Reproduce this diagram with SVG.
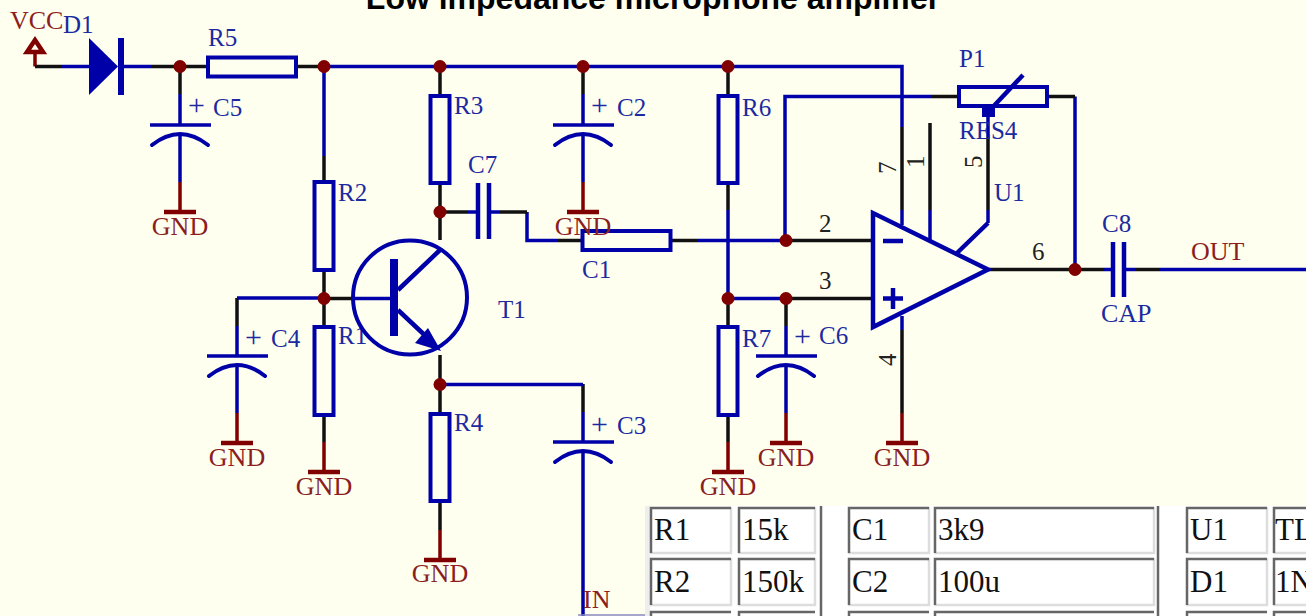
<svg xmlns="http://www.w3.org/2000/svg" width="1306" height="616" viewBox="0 0 1306 616">
<style>
text{font-family:"Liberation Serif","Times New Roman",serif;font-size:25px}
.t{fill:#1c2aa0}.g{fill:#8b1e1e;font-size:26px}.p{fill:#222}.l{font-size:26px}
.plus{font-size:30px}
.title{font-family:"Liberation Sans",Arial,sans-serif;font-weight:bold;font-size:32px;fill:#000}
.cell{font-size:31px;fill:#111}
.k,.b,.d{fill:none;stroke-width:3.500}
.k{stroke:#111}.b{stroke:#0000a8}.d{stroke:#800000}
.w4{stroke-width:4.500}.w5{stroke-width:6}
.body{fill:none;stroke:#0000a8;stroke-width:4}
.solid{fill:#0000a8;stroke:none}
.j{fill:#800000}
.ci{fill:#fff;stroke:none}
.tl{fill:none;stroke:#666;stroke-width:2.500}
.br{fill:none;stroke:#ddd;stroke-width:2.500}
</style>
<defs>
<g id="pcap"><path class="b" d="M-30 0H31"/><path class="body" stroke-linecap="round" d="M-28 20Q0 -2 28 20"/></g>
<path id="gbar" class="d w4" d="M-16 0H16"/>
</defs>
<rect width="1306" height="616" fill="#fffff0"/>
<text class="title" x="653" y="9" text-anchor="middle" id="title">Low impedance microphone amplifier</text>

<g id="connectors">
<path class="d" d="M35 54V66.500"/>
<path class="k" d="M35 66.500H62M152 66.500H207M296 66.500H324"/>
<path class="b" d="M62 66.500H90M121 66.500H152M324 66.500H902V127M785 240.500V96.500H932M1075 96.500V269.500"/>
<path class="k" d="M932 96.500H958M1047 96.500H1075"/>
<path class="k" d="M180 66.500V94M324 156V182M324 270V327M324 415V442M440 66.500V96M440 183V240M440 355V414M440 501V530M583 66.500V94M583 384V412M728 66.500V96M728 183V210M728 298V327M728 415V442M786 298V326M237 298V326M902 127V210M902 330V413M930 123V210M988 137V210"/>
<path class="b" d="M180 94V125M180 134V182M324 66.500V156M237 326V356M237 366V413M583 94V125M583 134V182M583 412V442M583 452V616M728 210V298M786 326V356M786 366V413M902 210V225M930 210V240M902 316V330M988 117V137M988 210V223"/>
<path class="b w4" d="M988 223L957 253"/>
<path class="d" d="M180 182V212M237 413V443M324 442V472M440 530V560M583 182V212M728 442V472M786 413V443M902 413V443"/>
<path class="b" d="M237 298H324M440 384.500H583M468 212H478M488 212H499M527 212V240.500H558M697 240.500H786M728 298.500H786M1103 269.500H1113M1124 269.500H1135M1160 269.500H1306"/>
<path class="k" d="M324 298.500H352M440 212H468M499 212H527M558 240.500H582M670 240.500H697M786 240.500H873M786 298.500H873M988 269.500H1103M1135 269.500H1160"/>
</g>

<g id="VCC"><path class="d w4" d="M35 40L43 52H27Z"/><text class="g" x="10" y="29">VCC</text></g>
<g id="D1"><path class="solid" d="M89 38L118 66.500L89 95Z"/><path class="b w5" d="M121 38V95"/><text class="t" x="63" y="33">D1</text></g>
<g id="R5"><rect class="body" x="208" y="57.500" width="88" height="19"/><text class="t" x="208" y="46">R5</text></g>
<g id="C5"><use href="#pcap" x="180" y="125"/><text class="t plus" x="188" y="115">+</text><text class="t" x="213" y="116">C5</text></g>
<g id="R2"><rect class="body" x="314.500" y="182" width="19" height="88"/><text class="t" x="338" y="201">R2</text></g>
<g id="R1"><rect class="body" x="314.500" y="327" width="19" height="88"/><text class="t" x="338" y="344">R1</text></g>
<g id="C4"><use href="#pcap" x="237" y="356"/><text class="t plus" x="245" y="347">+</text><text class="t" x="271" y="347">C4</text></g>
<g id="R3"><rect class="body" x="430.500" y="96" width="19" height="87"/><text class="t" x="454" y="114">R3</text></g>
<g id="R4"><rect class="body" x="430.500" y="414" width="19" height="87"/><text class="t" x="454" y="431">R4</text></g>
<g id="T1">
<circle class="body" cx="410" cy="297.500" r="57"/>
<path class="b" d="M352 298.500H392"/>
<rect class="solid" x="390" y="259" width="8" height="77"/>
<path class="b w4" d="M398 290L440 250M398 310L432 342"/>
<path class="solid" d="M428 328L441 351L415 343Z"/>
<text class="t" x="498" y="318">T1</text>
</g>
<g id="C7"><path class="b w4" d="M478 183V239M489 183V239"/><text class="t" x="468" y="173">C7</text></g>
<g id="C2"><use href="#pcap" x="583" y="125"/><text class="t plus" x="591" y="115">+</text><text class="t" x="617" y="116">C2</text></g>
<g id="C1"><rect class="body" x="582.500" y="231" width="88" height="19"/><text class="t" x="582" y="278">C1</text></g>
<g id="C3"><use href="#pcap" x="583" y="442"/><text class="t plus" x="591" y="434">+</text><text class="t" x="617" y="434">C3</text></g>
<g id="R6"><rect class="body" x="718.500" y="96" width="19" height="87"/><text class="t" x="742" y="116">R6</text></g>
<g id="R7"><rect class="body" x="718.500" y="327" width="19" height="88"/><text class="t" x="742" y="347">R7</text></g>
<g id="C6"><use href="#pcap" x="786" y="356"/><text class="t plus" x="794" y="346">+</text><text class="t" x="819" y="344">C6</text></g>
<g id="P1">
<rect class="body" x="959" y="87" width="88" height="19"/>
<path class="b w4" d="M1023 75L990 110"/>
<rect class="solid" x="982" y="107" width="13" height="10"/>
<text class="t" x="959" y="67">P1</text><text class="t" x="959" y="139">RES4</text>
</g>
<g id="U1">
<path class="b w4" d="M873 213V327L988 269.500Z"/>
<path class="b w4" d="M883 241H903M883 298.500H903M893 288V309"/>
<text class="t" x="994" y="201">U1</text>
<text class="p" x="819" y="232">2</text><text class="p" x="819" y="289">3</text><text class="p" x="1032" y="260">6</text>
<text class="p" transform="translate(896 174) rotate(-90)">7</text>
<text class="p" transform="translate(924 168) rotate(-90)">1</text>
<text class="p" transform="translate(982 168) rotate(-90)">5</text>
<text class="p" transform="translate(896 366) rotate(-90)">4</text>
</g>
<g id="C8"><path class="b w4" d="M1113 242V297M1124 242V297"/><text class="t" x="1102" y="232">C8</text><text class="t l" x="1101" y="322">CAP</text></g>
<g id="OUT"><text class="g" x="1191" y="260">OUT</text></g>
<g id="IN"><text class="g" x="583" y="608">IN</text><path d="M578 615H645" stroke="#8888c0" stroke-width="1.500" fill="none"/></g>

<g id="GND-C5"><use href="#gbar" x="180" y="212"/><text class="g" x="180" y="235" text-anchor="middle">GND</text></g>
<g id="GND-C4"><use href="#gbar" x="237" y="443"/><text class="g" x="237" y="466" text-anchor="middle">GND</text></g>
<g id="GND-R1"><use href="#gbar" x="324" y="472"/><text class="g" x="324" y="495" text-anchor="middle">GND</text></g>
<g id="GND-R4"><use href="#gbar" x="440" y="560"/><text class="g" x="440" y="582" text-anchor="middle">GND</text></g>
<g id="GND-C2"><use href="#gbar" x="583" y="212"/><text class="g" x="583" y="235" text-anchor="middle">GND</text></g>
<g id="GND-R7"><use href="#gbar" x="728" y="472"/><text class="g" x="728" y="495" text-anchor="middle">GND</text></g>
<g id="GND-C6"><use href="#gbar" x="786" y="443"/><text class="g" x="786" y="466" text-anchor="middle">GND</text></g>
<g id="GND-U1"><use href="#gbar" x="902" y="443"/><text class="g" x="902" y="466" text-anchor="middle">GND</text></g>

<g id="junctions" class="j">
<circle cx="180" cy="66.500" r="6.500"/><circle cx="324" cy="66.500" r="6.500"/><circle cx="440" cy="66.500" r="6.500"/><circle cx="583" cy="66.500" r="6.500"/><circle cx="728" cy="66.500" r="6.500"/>
<circle cx="440" cy="212" r="6.500"/><circle cx="324" cy="298.500" r="6.500"/><circle cx="440" cy="384.500" r="6.500"/><circle cx="786" cy="240.500" r="6.500"/><circle cx="728" cy="298.500" r="6.500"/><circle cx="786" cy="298.500" r="6.500"/><circle cx="1075" cy="269.500" r="6.500"/>
</g>

<g id="parts-table">
<rect x="645" y="506" width="661" height="110" fill="#fff"/>
<rect x="645" y="506" width="5" height="110" fill="#eee"/>
<path class="br" d="M731 507V553H650M815 507V553H738M929 507V553H848M1154 507V553H934M1267 507V553H1186M1306 553H1273M731 558V605H650M815 558V605H738M929 558V605H848M1154 558V605H934M1267 558V605H1186M1306 605H1273"/>
<path class="tl" d="M651 553V508H731M739 553V508H815M849 553V508H929M935 553V508H1154M1187 553V508H1267M1274 553V508H1306M651 605V559H731M739 605V559H815M849 605V559H929M935 605V559H1154M1187 605V559H1267M1274 605V559H1306M651 616V612H731M739 616V612H815M849 616V612H929M935 616V612H1154M1187 616V612H1267M1274 616V612H1306"/>
<path class="tl" d="M821 506V616M1158 506V616"/>
<text class="cell" x="654" y="540">R1</text><text class="cell" x="742" y="540">15k</text>
<text class="cell" x="852" y="540">C1</text><text class="cell" x="938" y="540">3k9</text>
<text class="cell" x="1190" y="540">U1</text><text class="cell" x="1275" y="540">TL</text>
<text class="cell" x="654" y="592">R2</text><text class="cell" x="742" y="592">150k</text>
<text class="cell" x="852" y="592">C2</text><text class="cell" x="938" y="592">100u</text>
<text class="cell" x="1190" y="592">D1</text><text class="cell" x="1275" y="592">1N</text>
</g>
</svg>
